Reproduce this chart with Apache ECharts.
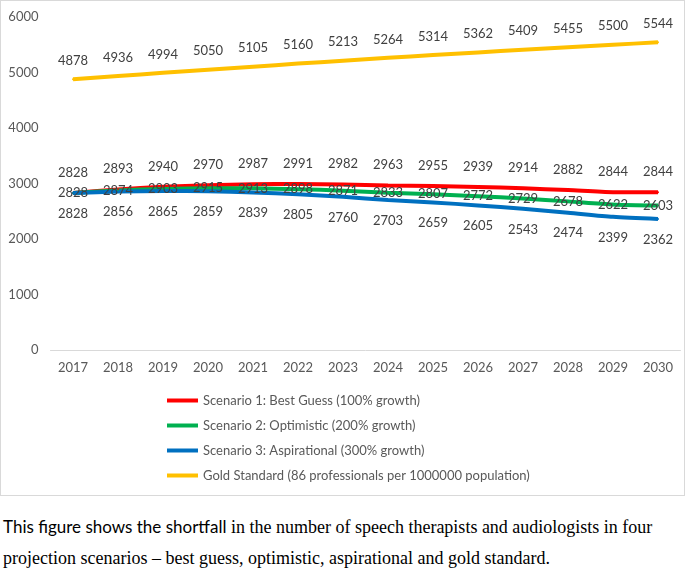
<!DOCTYPE html>
<html>
<head>
<meta charset="utf-8">
<script src="https://cdn.jsdelivr.net/npm/echarts@6/dist/echarts.min.js"></script>
<style>
  html, body { margin: 0; padding: 0; background: #fff; }
  #box { position: absolute; left: 0; top: 0; width: 683px; height: 494px; border: 1px solid #d9d9d9; }
  #main { width: 683px; height: 494px; }
  #caption { position: absolute; left: 3px; top: 511px; width: 682px; font-family: "Liberation Serif", serif; font-size: 18px; line-height: 31px; color: #000; }
  #caption .sans { font-family: Lato, "Liberation Sans", sans-serif; font-size: 17px; }
</style>
</head>
<body>
<div id="box"><div id="main"></div></div>
<div id="caption"><span class="sans">This figure shows the shortfall</span> in the number of speech therapists and audiologists in four<br>projection scenarios – best guess, optimistic, aspirational and gold standard.</div>
<script>
// 年份
var years = ['2017','2018','2019','2020','2021','2022','2023','2024','2025','2026','2027','2028','2029','2030'];
// 各情景数据
var bestGuess    = [2828, 2893, 2940, 2970, 2987, 2991, 2982, 2963, 2955, 2939, 2914, 2882, 2844, 2844];
var optimistic   = [2828, 2874, 2903, 2915, 2913, 2898, 2871, 2833, 2807, 2772, 2729, 2678, 2622, 2603];
var aspirational = [2828, 2856, 2865, 2859, 2839, 2805, 2760, 2703, 2659, 2605, 2543, 2474, 2399, 2362];
var goldStandard = [4878, 4936, 4994, 5050, 5105, 5160, 5213, 5264, 5314, 5362, 5409, 5455, 5500, 5544];
var names = [
  'Scenario 1: Best Guess (100% growth)',
  'Scenario 2: Optimistic (200% growth)',
  'Scenario 3: Aspirational (300% growth)',
  'Gold Standard (86 professionals per 1000000 population)'
];
var yTicks = [0, 1000, 2000, 3000, 4000, 5000, 6000];

var myChart = echarts.init(document.getElementById('main'));
var font = 'Lato, "Liberation Sans", sans-serif';

function line(name, data, color, pos, dist) {
  return {
    name: name,
    type: 'line',
    data: data,
    smooth: 0.25,
    symbol: 'circle',
    symbolSize: 2,
    showSymbol: true,
    lineStyle: { color: color, width: 4 },
    itemStyle: { color: color },
    label: {
      show: true,
      position: pos,
      distance: dist,
      color: '#404040',
      fontSize: 13,
      fontFamily: font
    }
  };
}

var option = {
  animation: false,
  grid: { left: 49.5, right: 3.5, top: 16, bottom: 145 },
  legend: {
    orient: 'vertical',
    left: 161,
    top: 388,
    icon: 'rect',
    itemWidth: 31,
    itemHeight: 4,
    itemGap: 12,
    data: names,
    textStyle: { color: '#595959', fontSize: 13, fontFamily: font }
  },
  xAxis: {
    type: 'category',
    data: years,
    axisTick: { show: false },
    axisLine: { lineStyle: { color: '#d9d9d9', width: 1 } },
    axisLabel: { color: '#595959', fontSize: 13, fontFamily: font, margin: 11 }
  },
  yAxis: {
    type: 'value',
    min: yTicks[0],
    max: yTicks[yTicks.length - 1],
    interval: 1000,
    splitLine: { show: false },
    axisLine: { show: false },
    axisTick: { show: false },
    axisLabel: { color: '#595959', fontSize: 13, fontFamily: font, margin: 12, formatter: function (v) { return String(v); } }
  },
  series: [
    line(names[0], bestGuess, '#ff0000', 'top', 13),
    line(names[1], optimistic, '#00b050', 'inside', 0),
    line(names[2], aspirational, '#0070c0', 'bottom', 13),
    line(names[3], goldStandard, '#ffc000', 'top', 11)
  ]
};
myChart.setOption(option);
</script>
</body>
</html>
